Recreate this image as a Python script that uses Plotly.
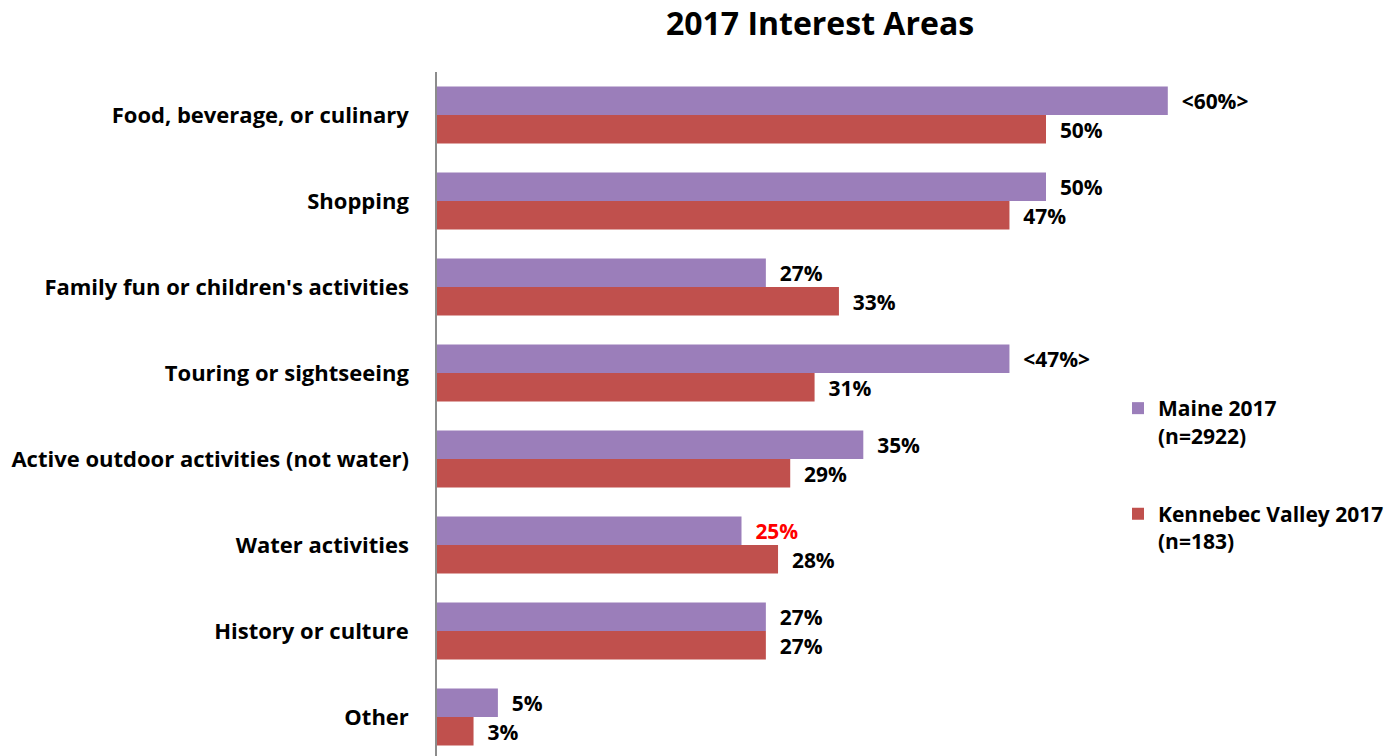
import plotly.graph_objects as go

categories = [
    "Food, beverage, or culinary",
    "Shopping",
    "Family fun or children's activities",
    "Touring or sightseeing",
    "Active outdoor activities (not water)",
    "Water activities",
    "History or culture",
    "Other",
]
maine_2017 = [60, 50, 27, 47, 35, 25, 27, 5]
maine_labels = ["<60%>", "50%", "27%", "<47%>", "35%", "25%", "27%", "5%"]
maine_label_colors = ["#000000"] * 5 + ["#FF0000"] + ["#000000"] * 2
kennebec_2017 = [50, 47, 33, 31, 29, 28, 27, 3]
kennebec_labels = ["50%", "47%", "33%", "31%", "29%", "28%", "27%", "3%"]

FONT = "Open Sans"
PAD = "\u00a0\u00a0"

W, H = 1397, 756
left, top = 437, 72
plot_w = W - left
px_per_pct = 12.18
band_px = 86
plot_h = H - top

fig = go.Figure()
fig.add_trace(go.Bar(
    y=categories, x=maine_2017, orientation="h",
    name="Maine 2017<br>(n=2922)",
    marker=dict(color="#9B7EBA", line=dict(width=0)),
    text=[PAD + t for t in maine_labels], textposition="outside",
    textfont=dict(family=FONT, size=22, color=maine_label_colors),
    cliponaxis=False, legendgroup="a", hoverinfo="skip",
))
fig.add_trace(go.Bar(
    y=categories, x=kennebec_2017, orientation="h",
    name="Kennebec Valley 2017<br>(n=183)",
    marker=dict(color="#C0504D", line=dict(width=0)),
    text=[PAD + t for t in kennebec_labels], textposition="outside",
    textfont=dict(family=FONT, size=22, color="#000000"),
    cliponaxis=False, legendgroup="b", hoverinfo="skip",
))

fig.update_layout(
    width=W, height=H,
    margin=dict(l=left, r=0, t=top, b=0, autoexpand=False),
    paper_bgcolor="white", plot_bgcolor="white",
    barmode="group", bargap=0.336, bargroupgap=0,
    uniformtext=dict(mode=False),
    font=dict(family=FONT, size=20, color="#000000", weight="bold"),
    title=dict(
        text="<b>2017 Interest Areas</b>",
        font=dict(family=FONT, size=32, color="#000000"),
        x=820 / W, xref="container", xanchor="center",
        y=1 - 24 / H, yref="container", yanchor="middle",
    ),
    xaxis=dict(
        range=[0, plot_w / px_per_pct],
        showticklabels=False, showgrid=False, zeroline=False, showline=False,
    ),
    yaxis=dict(
        categoryorder="array", categoryarray=categories,
        range=[-0.5 + plot_h / band_px, -0.5],
        showgrid=False, zeroline=False,
        showline=True, linecolor="#8C8C8C", linewidth=1.5,
        ticks="", ticklabelstandoff=22,
        tickfont=dict(family=FONT, size=22, color="#000000", weight="bold"),
    ),
    legend=dict(
        x=(1118 - left) / plot_w, xanchor="left",
        y=1 - (388 - top) / plot_h, yanchor="top",
        bgcolor="rgba(0,0,0,0)",
        font=dict(family=FONT, size=21, color="#000000", weight="bold"),
        traceorder="grouped", tracegroupgap=48, valign="top",
        itemwidth=30,
    ),
    showlegend=True,
)

fig.write_html("out.html")
